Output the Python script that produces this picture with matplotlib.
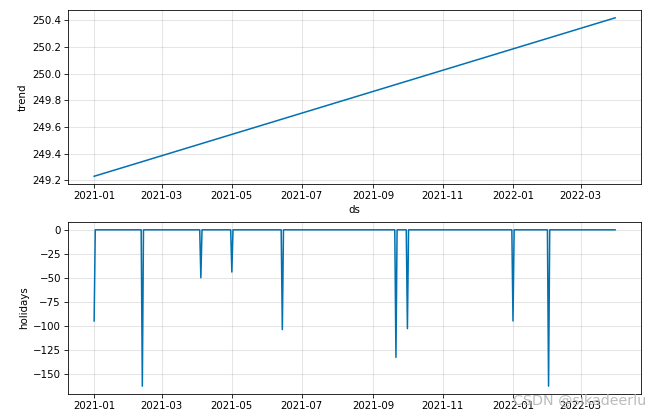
import matplotlib
matplotlib.use("Agg")
import matplotlib.pyplot as plt
import matplotlib.dates as mdates
import pandas as pd
import numpy as np

# trend component (straight line, start and end)
trend_dates = ["2021-01-01", "2022-03-31"]
trend_vals = [249.23, 250.42]

# holidays component: zero every day except these dates
start, end = "2021-01-01", "2022-03-31"
holiday_dates = ["2021-01-01", "2021-02-12", "2021-04-04", "2021-05-01", "2021-06-14",
                 "2021-09-21", "2021-10-01", "2022-01-01", "2022-02-01"]
holiday_vals = [-95, -163, -50, -44, -104, -133, -103, -95, -163]

days = pd.date_range(start, end, freq="D")
hol = pd.Series(0.0, index=days)
hol[pd.to_datetime(holiday_dates)] = holiday_vals

DPI = 661 / 9
fig = plt.figure(figsize=(9, 413 / DPI), dpi=DPI)
ax1 = fig.add_axes([0.103, 0.554, 0.867, 0.422])
ax2 = fig.add_axes([0.103, 0.046, 0.867, 0.4165])

ax1.plot(pd.to_datetime(trend_dates), trend_vals, ls="-", c="#0072B2")
ax2.plot(hol.index, hol.values, ls="-", c="#0072B2")

for ax in (ax1, ax2):
    ax.grid(True, which="major", c="gray", ls="-", lw=1, alpha=0.2)
    ax.xaxis.set_major_locator(mdates.MonthLocator(bymonth=[1, 3, 5, 7, 9, 11]))
    ax.xaxis.set_major_formatter(mdates.DateFormatter("%Y-%m"))

ax1.set_ylabel("trend")
ax1.set_xlabel("ds")
ax1.set_yticks([249.2, 249.4, 249.6, 249.8, 250.0, 250.2, 250.4])
ax1.set_yticklabels(["249.2", "249.4", "249.6", "249.8", "250.0", "250.2", "250.4"])
ax2.set_ylabel("holidays")
ax2.set_yticks([0, -25, -50, -75, -100, -125, -150])

fig.text(0.978, 0.012, "CSDN @sikadeerlu", ha="right", va="bottom",
         fontsize=14, color="#b4b4b4", alpha=0.9)

fig.savefig("out.png", dpi=DPI)
